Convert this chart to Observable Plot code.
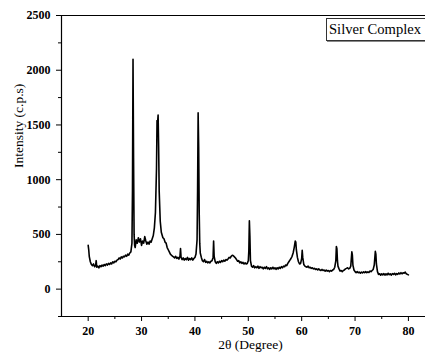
<!DOCTYPE html>
<html><head><meta charset="utf-8">
<script src="https://cdn.jsdelivr.net/npm/d3@7"></script>
<script src="https://cdn.jsdelivr.net/npm/@observablehq/plot@0.6"></script>
<style>
body{margin:0;background:#fff;}
#wrap{position:relative;width:425px;height:352px;overflow:hidden;}
#legend{position:absolute;left:326px;top:18px;width:110px;height:21px;border:1px solid #333;box-shadow:1px 1px 0 #888;font-family:"Liberation Serif",serif;font-size:14.6px;line-height:21px;padding-left:2px;background:#fff;white-space:nowrap;}
</style></head>
<body><div id="wrap"><div id="legend">Silver Complex</div></div>
<script>
const twoTheta = [20.0,20.1,20.2,20.4,20.6,20.8,21.0,21.2,21.4,21.5,21.6,21.8,22.0,22.2,22.4,22.6,22.8,23.0,23.2,23.4,23.6,23.8,24.0,24.2,24.4,24.6,24.8,25.0,25.2,25.4,25.6,25.8,26.0,26.2,26.4,26.6,26.8,27.0,27.2,27.4,27.6,27.8,28.0,28.2,28.3,28.4,28.5,28.6,28.7,28.8,29.0,29.2,29.4,29.6,29.8,30.0,30.2,30.4,30.6,30.8,31.0,31.2,31.4,31.6,31.8,32.0,32.2,32.4,32.6,32.8,32.9,33.0,33.1,33.2,33.3,33.5,33.7,34.0,34.2,34.4,34.6,34.8,35.0,35.2,35.4,35.6,35.8,36.0,36.2,36.4,36.6,36.8,37.0,37.2,37.3,37.4,37.6,37.8,38.0,38.2,38.4,38.6,38.8,39.0,39.2,39.4,39.6,39.8,40.0,40.2,40.4,40.5,40.6,40.7,40.8,40.9,41.0,41.2,41.4,41.6,41.8,42.0,42.2,42.4,42.6,42.8,43.0,43.2,43.4,43.5,43.6,43.8,44.0,44.2,44.4,44.6,44.8,45.0,45.2,45.4,45.6,45.8,46.0,46.2,46.4,46.6,46.8,47.0,47.2,47.4,47.6,47.8,48.0,48.2,48.4,48.6,48.8,49.0,49.2,49.4,49.6,49.8,50.0,50.1,50.2,50.3,50.4,50.6,50.8,51.0,51.2,51.4,51.6,51.8,52.0,52.2,52.4,52.6,52.8,53.0,53.2,53.4,53.6,53.8,54.0,54.2,54.4,54.6,54.8,55.0,55.2,55.4,55.6,55.8,56.0,56.2,56.4,56.6,56.8,57.0,57.2,57.4,57.6,57.8,58.0,58.2,58.4,58.6,58.8,58.9,59.0,59.2,59.4,59.6,59.8,60.0,60.1,60.2,60.4,60.6,60.8,61.0,61.2,61.4,61.6,61.8,62.0,62.2,62.4,62.6,62.8,63.0,63.2,63.4,63.6,63.8,64.0,64.2,64.4,64.6,64.8,65.0,65.2,65.4,65.6,65.8,66.0,66.2,66.4,66.5,66.6,66.7,66.8,67.0,67.2,67.4,67.6,67.8,68.0,68.2,68.4,68.6,68.8,69.0,69.2,69.4,69.5,69.6,69.8,70.0,70.2,70.4,70.6,70.8,71.0,71.2,71.4,71.6,71.8,72.0,72.2,72.4,72.6,72.8,73.0,73.2,73.4,73.6,73.8,73.9,74.0,74.2,74.4,74.6,74.8,75.0,75.2,75.4,75.6,75.8,76.0,76.2,76.4,76.6,76.8,77.0,77.2,77.4,77.6,77.8,78.0,78.2,78.4,78.6,78.8,79.0,79.2,79.4,79.6,79.8,80.0];
const intensity = [400,360,300,250,225,215,230,205,220,260,200,210,195,215,205,220,210,225,215,230,220,235,225,240,230,250,240,255,250,265,270,285,275,295,285,300,295,310,300,320,310,330,340,420,900,2100,1200,500,400,380,450,420,470,430,460,400,440,420,480,440,410,430,410,440,430,460,490,560,700,1100,1540,1520,1590,1300,900,620,520,470,460,430,420,380,360,340,320,310,300,295,285,300,280,290,275,300,370,290,270,285,265,280,270,290,265,280,270,285,265,280,290,320,450,900,1610,1300,700,420,330,290,260,250,270,245,255,240,250,240,255,260,290,440,300,250,235,250,240,255,245,260,250,265,255,270,265,275,290,285,300,310,305,295,285,270,255,260,240,250,235,245,230,240,230,235,260,350,625,480,260,210,200,215,195,205,195,210,190,205,195,200,185,200,190,205,185,195,180,195,185,200,185,195,180,195,185,200,190,205,195,210,205,220,215,235,250,265,280,300,330,380,440,430,360,290,250,230,235,280,355,290,225,210,205,200,210,195,200,190,195,185,190,180,185,175,185,175,170,180,170,175,165,175,165,170,160,170,165,175,180,200,260,390,370,260,210,185,165,170,160,170,175,185,190,195,185,190,210,340,310,220,175,160,150,160,150,155,145,155,148,158,150,160,150,158,152,165,160,170,180,220,345,320,230,160,135,140,128,140,130,142,128,140,130,145,132,140,128,142,135,145,130,142,135,148,138,150,140,150,145,155,140,135,130];
const xDomain = [15, 83.2];
const yDomain = [-250, 2500];
const xMajor = [20,30,40,50,60,70,80];
const xMinor = [25,35,45,55,65,75];
const yMajor = [0,500,1000,1500,2000,2500];
const yMinor = [-250,250,750,1250,1750,2250];
const data = twoTheta.map((x,i)=>({x, y:intensity[i]}));
const font = "Liberation Serif";
const fmt = d => String(d);
const chart = Plot.plot({
  width:425, height:352,
  marginLeft:61, marginRight:0, marginTop:15, marginBottom:36,
  style:{fontFamily:font, fontSize:"12px", color:"#000", background:"#fff"},
  x:{domain:xDomain, axis:null},
  y:{domain:yDomain, axis:null},
  marks:[
    Plot.line(data,{x:"x",y:"y",stroke:"#000",strokeWidth:1.6}),
    Plot.ruleX([xDomain[0]],{stroke:"#000",strokeWidth:1.2}),
    Plot.ruleY(yDomain,{stroke:"#000",strokeWidth:1.2}),
    Plot.axisX({ticks:xMajor, tickSize:5, tickPadding:5, tickFormat:fmt, fontFamily:font, fontWeight:"bold", fontSize:12, label:null}),
    Plot.axisX({ticks:xMinor, tickSize:3, tickFormat:()=>"", label:null}),
    Plot.axisY({ticks:yMajor, tickSize:5, tickPadding:6, tickFormat:fmt, fontFamily:font, fontWeight:"bold", fontSize:12, label:null}),
    Plot.axisY({ticks:yMinor, tickSize:3, tickFormat:()=>"", label:null}),
    Plot.text(["Intensity (c.p.s)"],{frameAnchor:"left", rotate:-90, dx:-43, dy:2, fontFamily:font, fontSize:13.5, fill:"#000"}),
    Plot.text(["2θ (Degree)"],{frameAnchor:"bottom", dx:7, dy:32, fontFamily:font, fontSize:13.5, fill:"#000"})
  ]
});
document.getElementById("wrap").prepend(chart);
</script></body></html>
